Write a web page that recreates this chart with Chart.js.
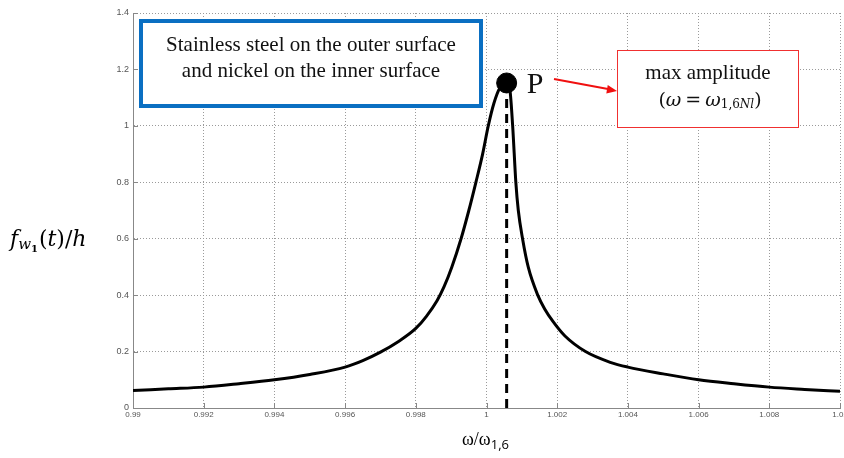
<!DOCTYPE html>
<html>
<head>
<meta charset="utf-8">
<script src="https://cdn.jsdelivr.net/npm/chart.js@4.4.0/dist/chart.umd.min.js"></script>
<style>
html, body { margin: 0; padding: 0; background: #fff; overflow: hidden; }
</style>
</head>
<body>
<canvas id="chart" width="844" height="458"></canvas>
<script>
// Frequency response
const omega = [0.990, 0.991, 0.992, 0.993, 0.994, 0.995, 0.996, 0.9965, 0.997, 0.9975, 0.998, 0.9983,
    0.9986, 0.9988, 0.99902, 0.99928, 0.9995, 0.9997, 0.99989, 1.00005, 1.00021, 1.00038, 1.00057,
    1.00066, 1.00074, 1.00083, 1.0009, 1.00102, 1.00118, 1.00145, 1.00165, 1.00189, 1.00222,
    1.0028, 1.0035, 1.004, 1.005, 1.006, 1.007, 1.008, 1.009, 1.010];
const amplitude = [0.062, 0.068, 0.074, 0.086, 0.100, 0.119, 0.145, 0.168, 0.198, 0.235, 0.282, 0.325,
    0.38, 0.43, 0.50, 0.60, 0.70, 0.80, 0.90, 1.00, 1.08, 1.135, 1.152,
    1.13, 1.00, 0.80, 0.70, 0.60, 0.50, 0.40, 0.35, 0.305, 0.255,
    0.20, 0.162, 0.145, 0.121, 0.100, 0.086, 0.074, 0.066, 0.059];

const peakOmega = 1.00057;
const peakAmp = 1.152;

const xTicks = [0.99, 0.992, 0.994, 0.996, 0.998, 1, 1.002, 1.004, 1.006, 1.008, 1.01];
const xTickLabels = ['0.99', '0.992', '0.994', '0.996', '0.998', '1', '1.002', '1.004', '1.006', '1.008', '1.01'];
const yTicks = [0, 0.2, 0.4, 0.6, 0.8, 1, 1.2, 1.4];
const yTickLabels = ['0', '0.2', '0.4', '0.6', '0.8', '1', '1.2', '1.4'];

const curve = omega.map((w, i) => ({ x: w, y: amplitude[i] }));
const peakLine = [{ x: peakOmega, y: 0 }, { x: peakOmega, y: peakAmp }];
const peakPoint = [{ x: peakOmega, y: peakAmp }];

const serif = '"Liberation Serif", "Times New Roman", serif';
const mathFont = '"DejaVu Serif", serif';
const tickFont = { family: '"Liberation Sans", Arial, sans-serif', size: 8 };

// inward MATLAB style tick marks
const innerTicks = {
    id: 'innerTicks',
    afterDraw(chart) {
        const ctx = chart.ctx;
        const a = chart.chartArea;
        const xs = chart.scales.x, ys = chart.scales.y;
        ctx.save();
        ctx.strokeStyle = '#888';
        ctx.lineWidth = 1;
        ctx.beginPath();
        xTicks.forEach(v => {
            const px = Math.round(xs.getPixelForValue(v)) + 0.5;
            ctx.moveTo(px, a.bottom);
            ctx.lineTo(px, a.bottom - 5);
        });
        yTicks.forEach(v => {
            const py = Math.round(ys.getPixelForValue(v)) + 0.5;
            ctx.moveTo(a.left, py);
            ctx.lineTo(a.left + 5, py);
        });
        ctx.stroke();
        ctx.restore();
    }
};

// writes pieces of text one after another, returns the end x
function runText(ctx, parts, x, y) {
    parts.forEach(p => {
        ctx.font = p[1];
        ctx.fillText(p[0], x, y + (p[2] || 0));
        x += ctx.measureText(p[0]).width + (p[3] || 0);
    });
    return x;
}
function runWidth(ctx, parts) {
    let w = 0;
    parts.forEach(p => { ctx.font = p[1]; w += ctx.measureText(p[0]).width + (p[3] || 0); });
    return w;
}

// text boxes, arrow and axis titles
const notes = {
    id: 'notes',
    afterDraw(chart) {
        const ctx = chart.ctx;
        const xs = chart.scales.x, ys = chart.scales.y;
        ctx.save();

        // blue box
        ctx.fillStyle = '#fff';
        ctx.fillRect(140, 19, 342, 88);
        ctx.strokeStyle = '#0a6fc2';
        ctx.lineWidth = 4;
        ctx.strokeRect(141, 21, 340, 85);
        ctx.fillStyle = '#111';
        ctx.font = '21px ' + serif;
        ctx.textAlign = 'center';
        ctx.textBaseline = 'middle';
        ctx.fillText('Stainless steel on the outer surface', 311, 45);
        ctx.fillText('and nickel on the inner surface', 311, 71);

        // P label next to the peak
        const px = xs.getPixelForValue(peakOmega);
        const py = ys.getPixelForValue(peakAmp);
        ctx.font = '30px ' + serif;
        ctx.textAlign = 'left';
        ctx.fillText('P', px + 20, py + 2);

        // red arrow
        ctx.strokeStyle = '#f01010';
        ctx.fillStyle = '#f01010';
        ctx.lineWidth = 2;
        ctx.beginPath();
        ctx.moveTo(554, 79);
        ctx.lineTo(608, 89);
        ctx.stroke();
        const ang = Math.atan2(11, 62);
        ctx.beginPath();
        ctx.moveTo(617, 91);
        ctx.lineTo(617 - 11 * Math.cos(ang - 0.4), 91 - 11 * Math.sin(ang - 0.4));
        ctx.lineTo(617 - 11 * Math.cos(ang + 0.4), 91 - 11 * Math.sin(ang + 0.4));
        ctx.closePath();
        ctx.fill();

        // red box
        ctx.fillStyle = '#fff';
        ctx.fillRect(617, 50, 182, 78);
        ctx.strokeStyle = '#f03030';
        ctx.lineWidth = 1;
        ctx.strokeRect(617.5, 50.5, 181, 77);
        ctx.fillStyle = '#111';
        ctx.font = '21px ' + serif;
        ctx.textAlign = 'center';
        ctx.fillText('max amplitude', 708, 73);
        ctx.textAlign = 'left';
        const boxLine = [
            ['(', '19px ' + mathFont],
            ['ω', 'italic 19px ' + mathFont, 0, 4],
            ['=', '19px ' + mathFont, 0, 4],
            ['ω', 'italic 19px ' + mathFont],
            ['1,6', '12px ' + mathFont, 4],
            ['Nl', 'italic 12px ' + mathFont, 4],
            [')', '19px ' + mathFont]
        ];
        runText(ctx, boxLine, 710 - runWidth(ctx, boxLine) / 2, 101);

        // y title
        ctx.fillStyle = '#000';
        runText(ctx, [
            ['f', 'italic 22px ' + mathFont],
            ['w', 'italic 15px ' + mathFont, 5],
            ['1', 'bold 10px ' + mathFont, 9, 1],
            ['(', '22px ' + mathFont],
            ['t', 'italic 22px ' + mathFont],
            [')/', '22px ' + mathFont],
            ['h', 'italic 22px ' + mathFont]
        ], 10, 240);

        // x title
        runText(ctx, [
            ['ω/ω', '18px ' + serif],
            ['1,6', '13px "Open Sans", "Noto Sans", sans-serif', 5]
        ], 462, 440);

        ctx.restore();
    }
};

new Chart(document.getElementById('chart'), {
    type: 'line',
    data: {
        datasets: [
            {
                data: peakPoint,
                showLine: false,
                pointRadius: 10,
                pointBackgroundColor: '#000',
                pointBorderColor: '#000',
                pointBorderWidth: 1
            },
            {
                data: curve,
                borderColor: '#000',
                borderWidth: 3,
                pointRadius: 0,
                cubicInterpolationMode: 'monotone',
                fill: false
            },
            {
                data: peakLine,
                borderColor: '#000',
                borderWidth: 3,
                borderDash: [9, 6],
                pointRadius: 0,
                fill: false
            }
        ]
    },
    options: {
        responsive: false,
        animation: false,
        devicePixelRatio: 1,
        layout: { autoPadding: false, padding: { left: 0, right: 4, top: 13, bottom: 0 } },
        plugins: { legend: { display: false }, tooltip: { enabled: false } },
        scales: {
            x: {
                type: 'linear',
                min: 0.99,
                max: 1.01,
                afterBuildTicks: s => { s.ticks = xTicks.map(v => ({ value: v })); },
                afterFit: s => { s.height = 50; s.paddingLeft = 0; s.paddingRight = 0; },
                ticks: {
                    callback: (v, i) => xTickLabels[i],
                    font: tickFont,
                    color: '#555',
                    padding: 2,
                    maxRotation: 0,
                    autoSkip: false
                },
                grid: { color: '#9a9a9a', lineWidth: 1, drawTicks: false },
                border: { color: '#888', width: 1, dash: [1, 2] }
            },
            y: {
                min: 0,
                max: 1.4,
                afterBuildTicks: s => { s.ticks = yTicks.map(v => ({ value: v })); },
                afterFit: s => { s.width = 133; },
                ticks: {
                    callback: (v, i) => yTickLabels[i],
                    font: { family: tickFont.family, size: 9 },
                    color: '#555',
                    padding: 4,
                    autoSkip: false
                },
                grid: { color: '#9a9a9a', lineWidth: 1, drawTicks: false },
                border: { color: '#888', width: 1, dash: [1, 2] }
            }
        }
    },
    plugins: [innerTicks, notes]
});
</script>
</body>
</html>
